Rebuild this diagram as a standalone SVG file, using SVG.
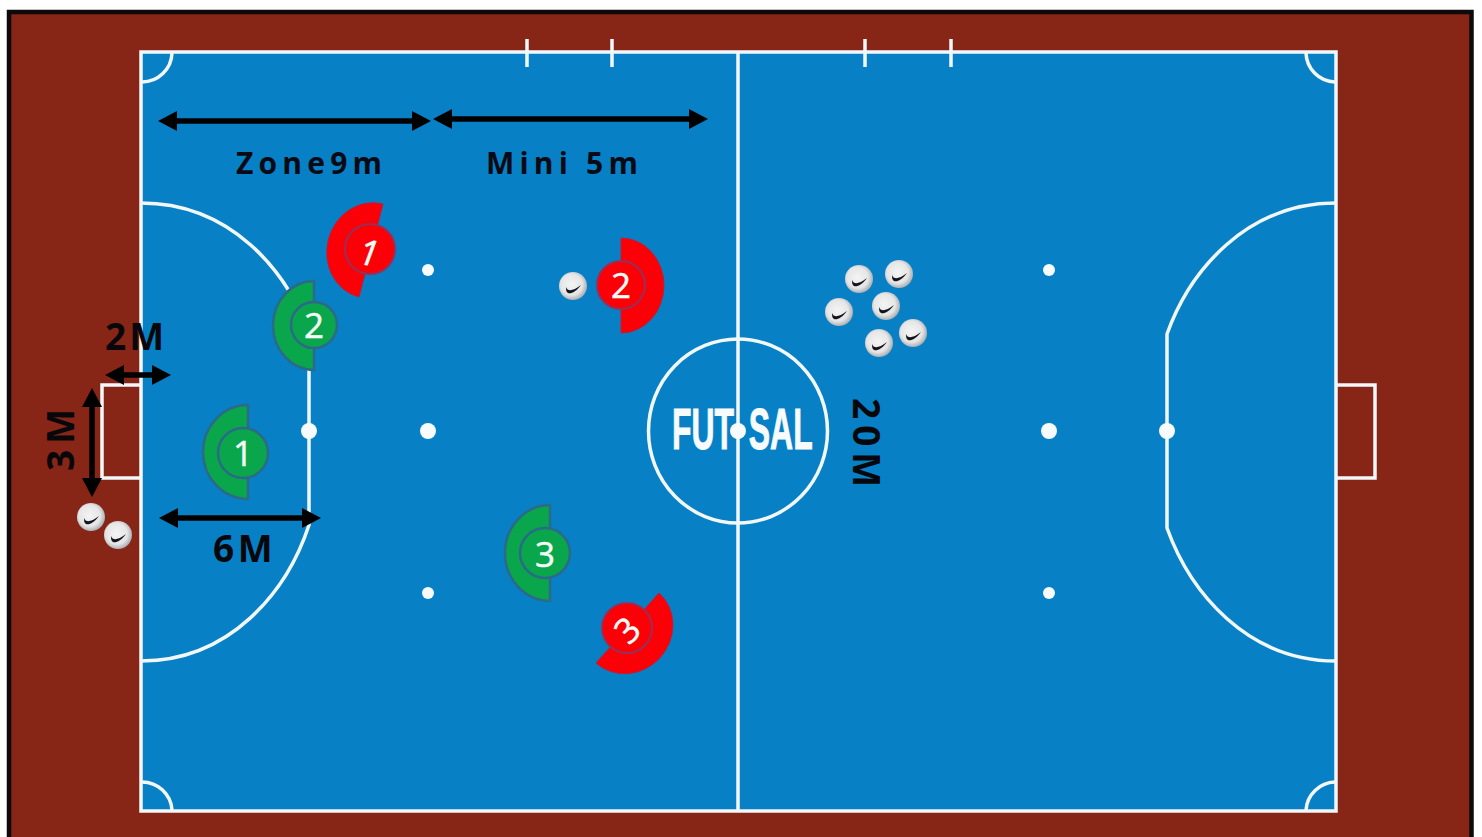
<svg xmlns="http://www.w3.org/2000/svg" width="1482" height="837" viewBox="0 0 1482 837">
<style>
.court{fill:none;stroke:#f2f7fa;stroke-width:3.5}
.dot{fill:#f8fbfc}
.dim{font-family:"Open Sans","DejaVu Sans",sans-serif;font-weight:700;fill:#07070c;font-size:37px}
.zone{font-family:"Open Sans","DejaVu Sans",sans-serif;font-weight:700;fill:#0a0a14;font-size:30px;letter-spacing:5.2px}
.arrow{stroke:#000;stroke-width:5.5;fill:none;marker-start:url(#ah);marker-end:url(#ah)}
.g{fill:#0aa64c;stroke:#2b6a88;stroke-width:2.5}
.r{fill:#fb0006;stroke:#96305a;stroke-width:2}
.ro{fill:#fb0006;stroke:#b8203a;stroke-width:1}
.num{font-family:"Open Sans","DejaVu Sans",sans-serif;font-size:35px;fill:#f5fbf5;text-anchor:middle;stroke:#f5fbf5;stroke-width:.5}
</style>
<defs>
<marker id="ah" markerUnits="userSpaceOnUse" markerWidth="20" markerHeight="20" refX="12" refY="10" orient="auto-start-reverse" viewBox="0 0 20 20">
<path d="M0,0L19,10L0,20Z" fill="#000"/>
</marker>
<radialGradient id="bg" cx="45%" cy="45%" r="58%">
<stop offset="0" stop-color="#f4f4f4"/><stop offset=".65" stop-color="#e6e6e6"/><stop offset="1" stop-color="#a2a8ae"/>
</radialGradient>
<g id="ball">
<circle r="14" fill="url(#bg)"/>
<path d="M-7,1C-5,6 0,5 8,-1C3,6 -2,8 -5,7C-7,6 -7,3 -7,1Z" fill="#14141c"/>
</g>
</defs>
<rect width="1482" height="837" fill="#fff"/>
<rect x="9" y="12" width="1462.5" height="830" fill="#872516" stroke="#0c0a0a" stroke-width="4.5"/>
<rect x="141" y="52" width="1195" height="759" fill="#0780c5"/>
<g id="court">
<rect class="court" x="141" y="52" width="1195" height="759"/>
<path class="court" d="M738,52V811"/>
<ellipse class="court" cx="738" cy="431" rx="89.5" ry="92"/>
<path class="court" d="M527,39V67M612,39V67M865,39V67M951,39V67"/>
<path class="court" d="M172,53A30,30 0 0 1 142,82M1306,53A30,30 0 0 0 1335,82M172,810A30,30 0 0 0 142,782M1306,810A30,30 0 0 1 1335,782"/>
<path class="court" d="M141,385H102V478H141M1336,385H1375V478H1336"/>
<path class="court" d="M141,203C230,203 287,270 309,334V525C287,592 230,661 141,661"/>
<path class="court" d="M1336,203C1247,203 1190,270 1167,334V528C1190,592 1247,661 1336,661"/>
<circle class="dot" cx="428" cy="270" r="6"/><circle class="dot" cx="428" cy="431" r="8"/><circle class="dot" cx="428" cy="593" r="6"/>
<circle class="dot" cx="309" cy="431" r="8"/>
<circle class="dot" cx="1049" cy="270" r="6"/><circle class="dot" cx="1049" cy="431" r="8"/><circle class="dot" cx="1049" cy="593" r="6"/>
<circle class="dot" cx="1167" cy="431" r="8"/>
<text transform="translate(672,449) scale(.55,1)" font-family="Liberation Sans,sans-serif" font-weight="700" font-size="58" fill="#f8fbfc" stroke="#f8fbfc" stroke-width="1">FUT<tspan dx="27">SAL</tspan></text>
<circle class="dot" cx="738" cy="431" r="8"/>
</g>
<g id="connectors">
<line class="arrow" x1="165" y1="121" x2="424" y2="121"/>
<line class="arrow" x1="440" y1="119" x2="701" y2="119"/>
<line class="arrow" x1="112" y1="375" x2="164" y2="375"/>
<line class="arrow" x1="92" y1="395" x2="92" y2="490"/>
<line class="arrow" x1="166" y1="518" x2="314" y2="518"/>
</g>
<g id="labels">
<text class="zone" x="236" y="174">Zone9m</text>
<text class="zone" x="486" y="174">Mini 5m</text>
<text class="dim" x="105" y="350" letter-spacing="3">2M</text>
<text class="dim" x="213" y="562" letter-spacing="3.5">6M</text>
<text class="dim" transform="translate(74,471) rotate(-90)" letter-spacing="6">3M</text>
<text class="dim" transform="translate(853,398) rotate(90)" letter-spacing="6">20M</text>
</g>
<g id="green-1"><path class="g" d="M248,405A45,47 0 0 0 248,499Z"/><circle class="g" cx="243" cy="453" r="25"/><text class="num" x="243" y="466">1</text></g>
<g id="green-2"><path class="g" d="M314,281A41,44.5 0 0 0 314,370Z"/><circle class="g" cx="314" cy="325" r="23"/><text class="num" x="314" y="338">2</text></g>
<g id="green-3"><path class="g" d="M550,505A45,48 0 0 0 550,601Z"/><circle class="g" cx="545" cy="553" r="25"/><text class="num" x="545" y="567">3</text></g>
<g id="red-1"><path class="ro" d="M383,204A44,48 14.5 0 0 359,297Z"/><circle class="r" cx="370" cy="249" r="25"/><text class="num" font-style="italic" transform="translate(367,265) rotate(8)">1</text></g>
<g id="red-2"><path class="ro" d="M621,238A43,47.5 0 0 1 621,333Z"/><circle class="r" cx="621" cy="285" r="24"/><text class="num" x="621" y="298">2</text></g>
<g id="red-3"><path class="ro" d="M659,593A44,47 42 0 1 596,663Z"/><circle class="r" cx="627" cy="628" r="25"/><text class="num" transform="translate(636,639) rotate(-45)">3</text></g>
<g id="balls">
<use href="#ball" x="573" y="286"/><use href="#ball" x="91" y="517"/><use href="#ball" x="118" y="535"/>
<use href="#ball" x="859" y="279"/><use href="#ball" x="899" y="274"/><use href="#ball" x="839" y="312"/>
<use href="#ball" x="886" y="306"/><use href="#ball" x="879" y="343"/><use href="#ball" x="913" y="333"/>
</g>
</svg>
